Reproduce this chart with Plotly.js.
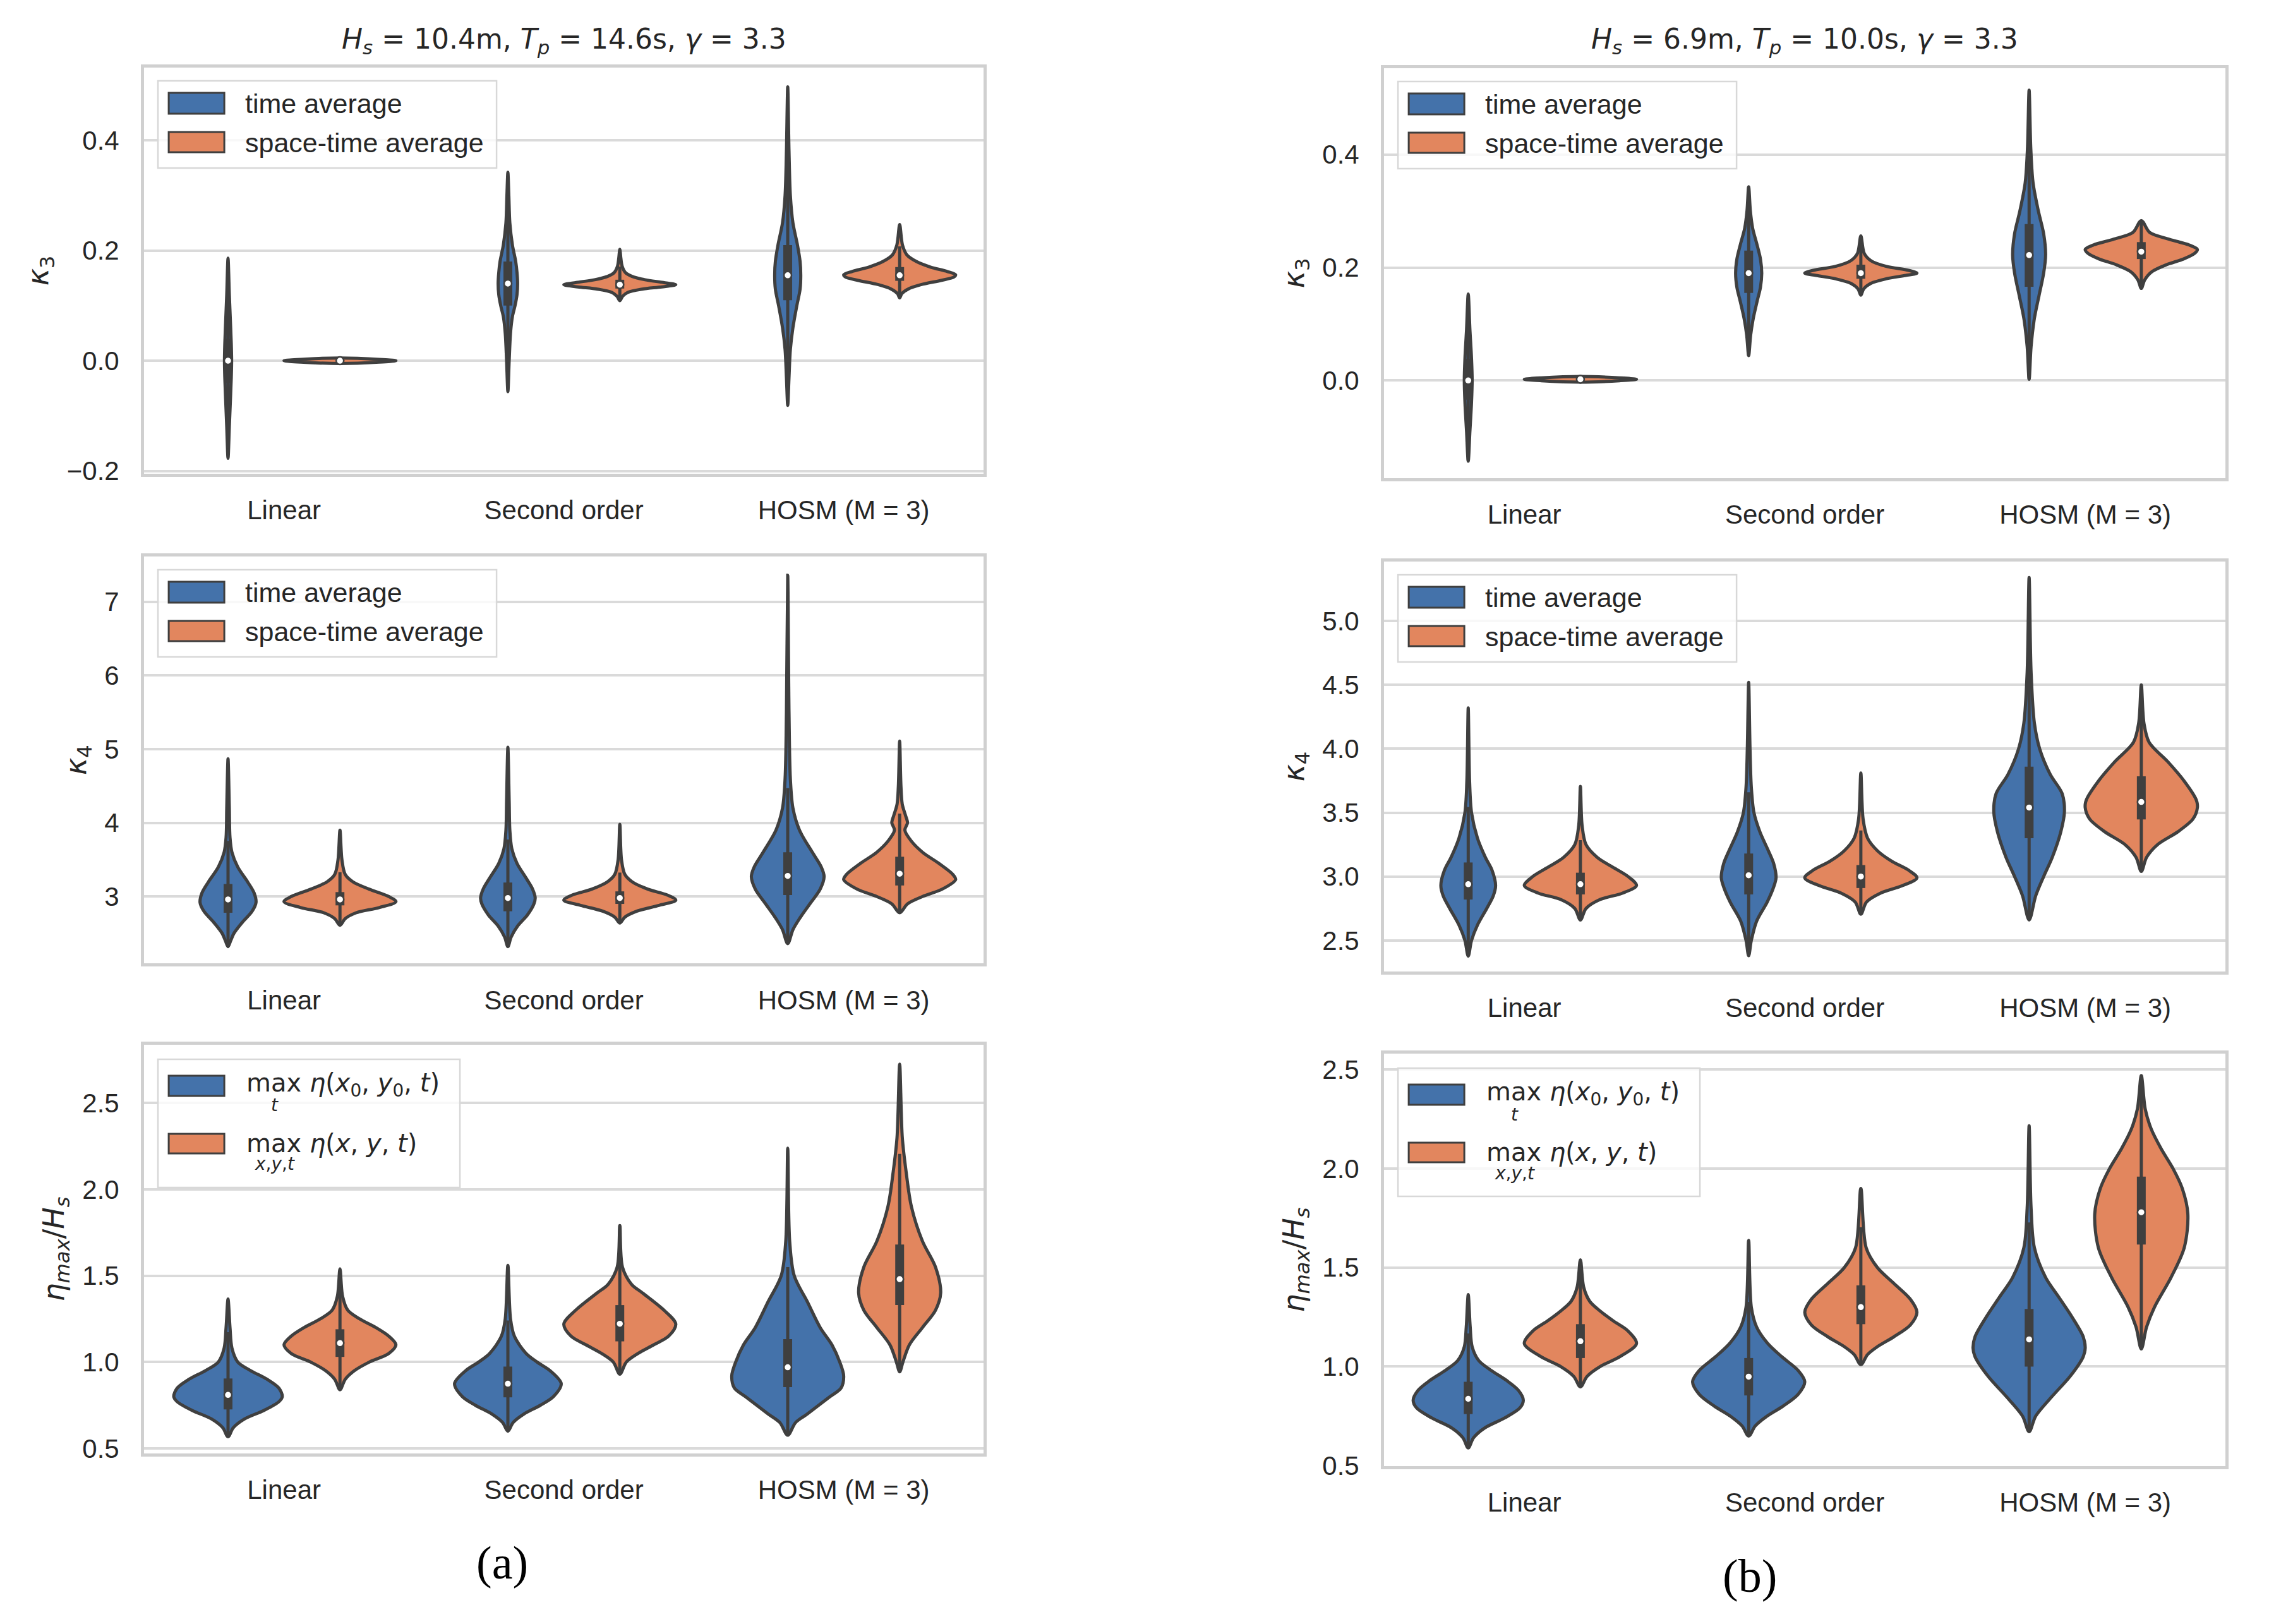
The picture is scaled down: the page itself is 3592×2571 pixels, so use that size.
<!DOCTYPE html>
<html>
<head>
<meta charset="utf-8">
<script src="https://cdn.plot.ly/plotly-3.0.1.min.js"></script>
<style>
  body { margin: 0; background: white; }
  #chart { width: 3592px; height: 2571px; }
</style>
</head>
<body>
<div id="chart"></div>
<script>
// categories on every x axis
var categories = ["Linear", "Second order", "HOSM (M = 3)"];
var legendLabels = ["time average", "space-time average"];
var etaLabels = ["max <i>η</i>(<i>x</i><sub>0</sub>, <i>y</i><sub>0</sub>, <i>t</i>)", "max <i>η</i>(<i>x</i>, <i>y</i>, <i>t</i>)"];
var etaLimits = ["<i>t</i>", "<i>x</i>,<i>y</i>,<i>t</i>"];
var colTitles = ["<i>H</i><sub><i>s</i></sub> = 10.4m, <i>T</i><sub><i>p</i></sub> = 14.6s, <i>γ</i> = 3.3",
                 "<i>H</i><sub><i>s</i></sub> = 6.9m, <i>T</i><sub><i>p</i></sub> = 10.0s, <i>γ</i> = 3.3"];
var yTitles = ["<i>κ</i><sub>3</sub>", "<i>κ</i><sub>4</sub>", "<i>η</i><sub><i>max</i></sub>/<i>H</i><sub><i>s</i></sub>"];
var captions = ["(a)", "(b)"];

// each violin: levels (value axis) and relative density (1 = widest violin)
// kappa 3, case (a)
var k3aTimeLevels = [[-0.177, -0.12, -0.06, -0.03, 0.0, 0.03, 0.06, 0.12, 0.186],
                     [-0.056, 0.0, 0.05, 0.08, 0.10, 0.12, 0.14, 0.16, 0.18, 0.21, 0.25, 0.30, 0.342],
                     [-0.081, -0.03, 0.02, 0.06, 0.10, 0.13, 0.155, 0.18, 0.21, 0.25, 0.30, 0.38, 0.497]];
var k3aTimeDens = [[0, 0.023, 0.047, 0.058, 0.064, 0.058, 0.047, 0.023, 0],
                   [0, 0.023, 0.047, 0.081, 0.128, 0.163, 0.174, 0.163, 0.14, 0.081, 0.035, 0.017, 0],
                   [0, 0.023, 0.047, 0.093, 0.163, 0.221, 0.233, 0.221, 0.174, 0.093, 0.047, 0.023, 0]];
var k3aTimeMedian = [0.0, 0.14, 0.155];
var k3aTimeQuart = [[-0.04, 0.04], [0.10, 0.18], [0.11, 0.21]];
var k3aSpaceLevels = [[-0.005, -0.0025, 0.0, 0.0025, 0.005],
                      [0.109, 0.117, 0.124, 0.130, 0.134, 0.138, 0.142, 0.147, 0.153, 0.160, 0.172, 0.185, 0.202],
                      [0.114, 0.122, 0.130, 0.138, 0.146, 0.152, 0.156, 0.162, 0.170, 0.180, 0.192, 0.21, 0.247]];
var k3aSpaceDens = [[0, 0.7, 1.0, 0.7, 0],
                    [0, 0.05, 0.14, 0.40, 0.75, 1.0, 0.78, 0.45, 0.22, 0.10, 0.04, 0.02, 0],
                    [0, 0.04, 0.15, 0.38, 0.75, 0.97, 1.0, 0.85, 0.55, 0.3, 0.13, 0.05, 0]];
var k3aSpaceMedian = [0.0, 0.138, 0.155];
var k3aSpaceQuart = [[-0.001, 0.001], [0.131, 0.147], [0.145, 0.17]];

// kappa 3, case (b)
var k3bTimeLevels = [[-0.143, -0.09, -0.04, 0.0, 0.04, 0.09, 0.153],
                     [0.044, 0.08, 0.11, 0.14, 0.165, 0.19, 0.215, 0.24, 0.27, 0.30, 0.343],
                     [0.002, 0.06, 0.11, 0.15, 0.19, 0.223, 0.26, 0.30, 0.35, 0.41, 0.514]];
var k3bTimeDens = [[0, 0.03, 0.058, 0.07, 0.058, 0.03, 0],
                   [0, 0.035, 0.082, 0.15, 0.21, 0.233, 0.21, 0.15, 0.07, 0.03, 0],
                   [0, 0.035, 0.094, 0.176, 0.259, 0.294, 0.259, 0.165, 0.07, 0.03, 0]];
var k3bTimeMedian = [0.0, 0.19, 0.222];
var k3bTimeQuart = [[-0.034, 0.038], [0.155, 0.23], [0.166, 0.277]];
var k3bSpaceLevels = [[-0.003, -0.0005, 0.002, 0.0045, 0.007],
                      [0.151, 0.162, 0.172, 0.180, 0.186, 0.190, 0.195, 0.202, 0.212, 0.225, 0.256],
                      [0.163, 0.178, 0.192, 0.205, 0.215, 0.225, 0.232, 0.24, 0.25, 0.262, 0.283]];
var k3bSpaceDens = [[0, 0.7, 1.0, 0.7, 0],
                    [0, 0.05, 0.18, 0.45, 0.8, 1.0, 0.85, 0.45, 0.18, 0.06, 0],
                    [0, 0.06, 0.18, 0.45, 0.75, 0.95, 1.0, 0.85, 0.5, 0.15, 0]];
var k3bSpaceMedian = [0.002, 0.19, 0.228];
var k3bSpaceQuart = [[0.001, 0.003], [0.18, 0.205], [0.215, 0.245]];

// kappa 4, case (a)
var k4aTimeLevels = [[2.32, 2.4, 2.5, 2.65, 2.8, 2.92, 3.05, 3.2, 3.4, 3.6, 3.8, 4.2, 4.87],
                     [2.32, 2.45, 2.6, 2.75, 2.9, 2.98, 3.1, 3.25, 3.45, 3.65, 3.9, 4.3, 5.025],
                     [2.36, 2.55, 2.7, 2.9, 3.1, 3.27, 3.4, 3.6, 3.9, 4.2, 4.6, 5.5, 7.36]];
var k4aTimeDens = [[0, 0.047, 0.105, 0.256, 0.43, 0.5, 0.465, 0.349, 0.174, 0.07, 0.035, 0.023, 0],
                   [0, 0.058, 0.174, 0.349, 0.465, 0.488, 0.442, 0.326, 0.163, 0.07, 0.035, 0.023, 0],
                   [0, 0.093, 0.21, 0.395, 0.58, 0.65, 0.6, 0.44, 0.21, 0.093, 0.047, 0.023, 0]];
var k4aTimeMedian = [2.96, 2.98, 3.28];
var k4aTimeQuart = [[2.78, 3.17], [2.80, 3.19], [3.02, 3.6]];
var k4aSpaceLevels = [[2.61, 2.7, 2.78, 2.85, 2.93, 3.0, 3.1, 3.2, 3.3, 3.5, 3.9],
                      [2.64, 2.72, 2.8, 2.88, 2.95, 3.02, 3.1, 3.2, 3.3, 3.5, 3.98],
                      [2.78, 2.9, 3.0, 3.1, 3.23, 3.3, 3.45, 3.6, 3.75, 3.9, 4.0, 4.1, 4.25, 4.5, 5.11]];
var k4aSpaceDens = [[0, 0.093, 0.29, 0.70, 1.0, 0.87, 0.52, 0.23, 0.093, 0.035, 0],
                    [0, 0.09, 0.3, 0.7, 1.0, 0.85, 0.5, 0.22, 0.09, 0.03, 0],
                    [0, 0.14, 0.41, 0.76, 1.0, 0.95, 0.70, 0.41, 0.21, 0.093, 0.14, 0.105, 0.047, 0.023, 0]];
var k4aSpaceMedian = [2.96, 2.98, 3.31];
var k4aSpaceQuart = [[2.88, 3.06], [2.90, 3.07], [3.15, 3.54]];

// kappa 4, case (b)
var k4bTimeLevels = [[2.377, 2.5, 2.62, 2.75, 2.85, 2.93, 3.05, 3.15, 3.3, 3.5, 3.75, 4.32],
                     [2.38, 2.5, 2.65, 2.8, 2.92, 2.99, 3.1, 3.2, 3.35, 3.5, 3.7, 4.0, 4.52],
                     [2.66, 2.85, 3.0, 3.15, 3.35, 3.51, 3.65, 3.8, 4.0, 4.2, 4.6, 5.34]];
var k4bTimeDens = [[0, 0.059, 0.165, 0.33, 0.447, 0.488, 0.424, 0.306, 0.165, 0.059, 0.024, 0],
                   [0, 0.047, 0.141, 0.33, 0.447, 0.488, 0.447, 0.353, 0.2, 0.094, 0.047, 0.024, 0],
                   [0, 0.118, 0.259, 0.412, 0.565, 0.63, 0.588, 0.376, 0.188, 0.094, 0.035, 0]];
var k4bTimeMedian = [2.94, 3.01, 3.54];
var k4bTimeQuart = [[2.82, 3.11], [2.86, 3.18], [3.30, 3.86]];
var k4bSpaceLevels = [[2.66, 2.75, 2.82, 2.87, 2.93, 3.0, 3.08, 3.15, 3.25, 3.4, 3.705],
                      [2.705, 2.8, 2.87, 2.93, 2.99, 3.05, 3.12, 3.2, 3.3, 3.45, 3.81],
                      [3.04, 3.15, 3.25, 3.35, 3.45, 3.54, 3.6, 3.75, 3.9, 4.05, 4.2, 4.5]];
var k4bSpaceDens = [[0, 0.1, 0.35, 0.75, 1.0, 0.85, 0.55, 0.3, 0.1, 0.03, 0],
                    [0, 0.1, 0.35, 0.75, 1.0, 0.85, 0.55, 0.3, 0.12, 0.04, 0],
                    [0, 0.094, 0.29, 0.65, 0.92, 1.0, 0.98, 0.76, 0.47, 0.14, 0.047, 0]];
var k4bSpaceMedian = [2.94, 3.0, 3.584];
var k4bSpaceQuart = [[2.86, 3.03], [2.91, 3.09], [3.447, 3.785]];

// eta max / Hs, case (a)
var etaATimeLevels = [[0.567, 0.62, 0.67, 0.72, 0.77, 0.80, 0.85, 0.90, 0.95, 1.0, 1.08, 1.2, 1.365],
                      [0.6, 0.65, 0.7, 0.75, 0.8, 0.875, 0.95, 1.0, 1.05, 1.15, 1.25, 1.56],
                      [0.577, 0.65, 0.7, 0.8, 0.85, 0.92, 1.0, 1.1, 1.2, 1.35, 1.5, 1.7, 2.238]];
var etaATimeDens = [[0, 0.093, 0.29, 0.64, 0.907, 0.97, 0.907, 0.70, 0.407, 0.174, 0.07, 0.035, 0],
                    [0, 0.093, 0.29, 0.58, 0.814, 0.953, 0.756, 0.523, 0.326, 0.116, 0.047, 0],
                    [0, 0.14, 0.35, 0.756, 0.953, 1.0, 0.93, 0.79, 0.58, 0.35, 0.116, 0.035, 0]];
var etaATimeMedian = [0.81, 0.875, 0.97];
var etaATimeQuart = [[0.726, 0.905], [0.796, 0.974], [0.855, 1.133]];
var etaASpaceLevels = [[0.84, 0.9, 0.95, 1.0, 1.05, 1.1, 1.15, 1.2, 1.25, 1.3, 1.38, 1.54],
                       [0.93, 1.0, 1.05, 1.1, 1.15, 1.22, 1.3, 1.4, 1.45, 1.55, 1.79],
                       [0.944, 1.0, 1.1, 1.2, 1.3, 1.4, 1.55, 1.7, 1.9, 2.1, 2.3, 2.724]];
var etaASpaceDens = [[0, 0.093, 0.256, 0.523, 0.872, 1.0, 0.872, 0.64, 0.35, 0.14, 0.047, 0],
                     [0, 0.116, 0.326, 0.605, 0.872, 1.0, 0.79, 0.407, 0.21, 0.047, 0],
                     [0, 0.058, 0.174, 0.407, 0.64, 0.733, 0.64, 0.407, 0.21, 0.116, 0.047, 0]];
var etaASpaceMedian = [1.11, 1.222, 1.48];
var etaASpaceQuart = [[1.03, 1.19], [1.12, 1.33], [1.33, 1.68]];

// eta max / Hs, case (b)
var etaBTimeLevels = [[0.589, 0.64, 0.69, 0.74, 0.79, 0.83, 0.88, 0.93, 0.98, 1.03, 1.1, 1.2, 1.363],
                      [0.649, 0.7, 0.75, 0.8, 0.86, 0.923, 0.98, 1.05, 1.12, 1.2, 1.3, 1.637],
                      [0.671, 0.75, 0.85, 0.95, 1.05, 1.094, 1.15, 1.25, 1.35, 1.45, 1.6, 1.8, 2.216]];
var etaBTimeDens = [[0, 0.094, 0.294, 0.647, 0.918, 0.982, 0.894, 0.682, 0.412, 0.188, 0.07, 0.035, 0],
                    [0, 0.118, 0.33, 0.612, 0.882, 1.0, 0.882, 0.588, 0.33, 0.141, 0.047, 0],
                    [0, 0.118, 0.412, 0.73, 0.965, 1.0, 0.965, 0.765, 0.53, 0.294, 0.094, 0.035, 0]];
var etaBTimeMedian = [0.837, 0.949, 1.137];
var etaBTimeQuart = [[0.760, 0.923], [0.854, 1.043], [1.0, 1.291]];
var etaBSpaceLevels = [[0.897, 0.95, 1.0, 1.05, 1.116, 1.18, 1.23, 1.28, 1.33, 1.4, 1.539],
                       [1.009, 1.06, 1.1, 1.15, 1.21, 1.274, 1.34, 1.42, 1.5, 1.6, 1.899],
                       [1.089, 1.2, 1.3, 1.45, 1.6, 1.77, 1.9, 2.0, 2.1, 2.2, 2.3, 2.469]];
var etaBSpaceDens = [[0, 0.118, 0.353, 0.706, 1.0, 0.847, 0.588, 0.353, 0.165, 0.059, 0],
                     [0, 0.118, 0.294, 0.588, 0.882, 1.0, 0.882, 0.588, 0.294, 0.094, 0],
                     [0, 0.094, 0.235, 0.53, 0.765, 0.83, 0.73, 0.565, 0.353, 0.176, 0.07, 0]];
var etaBSpaceMedian = [1.128, 1.30, 1.779];
var etaBSpaceQuart = [[1.043, 1.214], [1.214, 1.41], [1.616, 1.959]];

// look
var W = 3592, H = 2571;
var blue = "#4472aa", orange = "#e2865e", edge = "#3f3f3f";
var gridCol = "#dadada", frameCol = "#d0d0d0", textCol = "#262626";
var sansFont = "Liberation Sans, Arial, sans-serif";
var halfMax = 0.2, dodge = 0.2;

// panel placement (paper fractions) and y scales
var panels = [
  {col: 0, row: 0, x: [0.0635, 0.4335], y: [0.7083, 0.9584], range: [-0.205, 0.532], dtick: 0.2, fmt: ".1f",
   time: [k3aTimeLevels, k3aTimeDens, k3aTimeMedian, k3aTimeQuart], space: [k3aSpaceLevels, k3aSpaceDens, k3aSpaceMedian, k3aSpaceQuart]},
  {col: 1, row: 0, x: [0.61, 0.9808], y: [0.7056, 0.958], range: [-0.173, 0.553], dtick: 0.2, fmt: ".1f",
   time: [k3bTimeLevels, k3bTimeDens, k3bTimeMedian, k3bTimeQuart], space: [k3bSpaceLevels, k3bSpaceDens, k3bSpaceMedian, k3bSpaceQuart]},
  {col: 0, row: 1, x: [0.0635, 0.4335], y: [0.4068, 0.6573], range: [2.093, 7.614], dtick: 1, fmt: "d",
   time: [k4aTimeLevels, k4aTimeDens, k4aTimeMedian, k4aTimeQuart], space: [k4aSpaceLevels, k4aSpaceDens, k4aSpaceMedian, k4aSpaceQuart]},
  {col: 1, row: 1, x: [0.61, 0.9808], y: [0.4018, 0.6542], range: [2.257, 5.465], dtick: 0.5, fmt: ".1f",
   time: [k4bTimeLevels, k4bTimeDens, k4bTimeMedian, k4bTimeQuart], space: [k4bSpaceLevels, k4bSpaceDens, k4bSpaceMedian, k4bSpaceQuart]},
  {col: 0, row: 2, x: [0.0635, 0.4335], y: [0.1050, 0.3567], range: [0.471, 2.837], dtick: 0.5, fmt: ".1f",
   time: [etaATimeLevels, etaATimeDens, etaATimeMedian, etaATimeQuart], space: [etaASpaceLevels, etaASpaceDens, etaASpaceMedian, etaASpaceQuart]},
  {col: 1, row: 2, x: [0.61, 0.9808], y: [0.0972, 0.3512], range: [0.497, 2.58], dtick: 0.5, fmt: ".1f",
   time: [etaBTimeLevels, etaBTimeDens, etaBTimeMedian, etaBTimeQuart], space: [etaBSpaceLevels, etaBSpaceDens, etaBSpaceMedian, etaBSpaceQuart]}
];

var data = [];
var layout = {
  width: W, height: H,
  margin: {l: 0, r: 0, t: 0, b: 0},
  paper_bgcolor: "white", plot_bgcolor: "white",
  showlegend: false,
  font: {family: sansFont, size: 42, color: textCol},
  shapes: [], annotations: []
};

// one violin as a closed outline, right side up and left side down
violin = function(xc, levels, dens, color, xa, ya){
  var xs = [], ys = [];
  for (let i = 0; i < levels.length; i++){
    xs.push(xc + halfMax*dens[i]); ys.push(levels[i]);
  }
  for (let i = levels.length - 2; i >= 0; i--){
    xs.push(xc - halfMax*dens[i]); ys.push(levels[i]);
  }
  return {type: "scatter", mode: "lines", x: xs, y: ys, xaxis: xa, yaxis: ya,
    fill: "toself", fillcolor: color,
    line: {color: edge, width: 5, shape: "spline", smoothing: 0.9},
    hoverinfo: "skip", showlegend: false};
};

// inner box like seaborn: whisker, thick quartile bar and white median dot
innerBox = function(offset, set, xa, ya){
  var levels = set[0], med = set[2], quart = set[3];
  var wx = [], wy = [], bx = [], by = [], mx = [];
  for (let c = 0; c < 3; c++){
    var xc = c + offset;
    var lv = levels[c];
    var iqr = quart[c][1] - quart[c][0];
    var lo = Math.max(lv[0], quart[c][0] - 1.5*iqr);
    var hi = Math.min(lv[lv.length-1], quart[c][1] + 1.5*iqr);
    wx.push(xc, xc, null); wy.push(lo, hi, null);
    bx.push(xc, xc, null); by.push(quart[c][0], quart[c][1], null);
    mx.push(xc);
  }
  return [
    {type: "scatter", mode: "lines", x: wx, y: wy, xaxis: xa, yaxis: ya,
      line: {color: edge, width: 5}, hoverinfo: "skip", showlegend: false},
    {type: "scatter", mode: "lines", x: bx, y: by, xaxis: xa, yaxis: ya,
      line: {color: edge, width: 14}, hoverinfo: "skip", showlegend: false},
    {type: "scatter", mode: "markers", x: mx, y: med, xaxis: xa, yaxis: ya,
      marker: {color: "white", size: 12, line: {color: edge, width: 2.5}},
      hoverinfo: "skip", showlegend: false}
  ];
};

// custom legend box inside the panel, offsets in pixels from the plot corner
addLegend = function(p, n){
  var xd = (n == 1 ? "x" : "x" + n) + " domain";
  var yd = (n == 1 ? "y" : "y" + n) + " domain";
  var pw = (p.x[1] - p.x[0])*W, ph = (p.y[1] - p.y[0])*H;
  var fx = function(v){ return v/pw; };
  var fy = function(v){ return 1 - v/ph; };
  var eta = p.row == 2;
  var box = eta ? [22, 500, 23, 226] : [22, 558, 21, 159];
  var patches = eta ? [[49, 81], [141, 172]] : [[40, 73], [102, 134]];
  var textY = eta ? [63, 156] : [57, 119];
  layout.shapes.push({type: "rect", xref: xd, yref: yd, layer: "above",
    x0: fx(box[0]), x1: fx(box[1]), y0: fy(box[2]), y1: fy(box[3]),
    fillcolor: "rgba(255,255,255,0.8)", line: {color: "#d8d8d8", width: 2.5}});
  var cols = [blue, orange];
  for (let k = 0; k < 2; k++){
    layout.shapes.push({type: "rect", xref: xd, yref: yd, layer: "above",
      x0: fx(39), x1: fx(127), y0: fy(patches[k][0]), y1: fy(patches[k][1]),
      fillcolor: cols[k], line: {color: edge, width: 3}});
    if (eta){
      layout.annotations.push({xref: xd, yref: yd, x: fx(160), y: fy(textY[k]),
        xanchor: "left", yanchor: "middle", showarrow: false, text: etaLabels[k],
        font: {family: "DejaVu Sans", size: 40, color: textCol}});
      layout.annotations.push({xref: xd, yref: yd, x: fx(207), y: fy(textY[k] + 33),
        xanchor: "center", yanchor: "middle", showarrow: false, text: etaLimits[k],
        font: {family: "DejaVu Sans", size: 28, color: textCol}});
    } else {
      layout.annotations.push({xref: xd, yref: yd, x: fx(158), y: fy(textY[k]),
        xanchor: "left", yanchor: "middle", showarrow: false, text: legendLabels[k],
        font: {family: sansFont, size: 43, color: textCol}});
    }
  }
};

panels.forEach(function(p, i){
  var n = i + 1;
  var xa = n == 1 ? "x" : "x" + n;
  var ya = n == 1 ? "y" : "y" + n;

  for (let c = 0; c < 3; c++){
    data.push(violin(c - dodge, p.time[0][c], p.time[1][c], blue, xa, ya));
    data.push(violin(c + dodge, p.space[0][c], p.space[1][c], orange, xa, ya));
  }
  data = data.concat(innerBox(-dodge, p.time, xa, ya));
  data = data.concat(innerBox(dodge, p.space, xa, ya));

  layout[n == 1 ? "xaxis" : "xaxis" + n] = {
    domain: p.x, anchor: ya, range: [-0.5, 2.5],
    tickmode: "array", tickvals: [0, 1, 2], ticktext: categories,
    showgrid: false, zeroline: false,
    showline: true, mirror: true, linecolor: frameCol, linewidth: 5,
    ticks: "outside", ticklen: 17, tickcolor: "rgba(0,0,0,0)",
    tickfont: {family: sansFont, size: 42, color: textCol}, fixedrange: true
  };
  layout[n == 1 ? "yaxis" : "yaxis" + n] = {
    domain: p.y, anchor: xa, range: p.range,
    tick0: 0, dtick: p.dtick, tickformat: p.fmt,
    showgrid: true, gridcolor: gridCol, gridwidth: 4, zeroline: false,
    showline: true, mirror: true, linecolor: frameCol, linewidth: 5,
    ticks: "outside", ticklen: 26, tickcolor: "rgba(0,0,0,0)",
    tickfont: {family: sansFont, size: 42, color: textCol}, fixedrange: true,
    title: {text: yTitles[p.row], standoff: 16,
      font: {family: "DejaVu Sans", size: 46, color: textCol}}
  };
  addLegend(p, n);
});

// column titles and (a) / (b) captions
for (let k = 0; k < 2; k++){
  var px = panels[k].x;
  layout.annotations.push({xref: "paper", yref: "paper", x: (px[0] + px[1])/2, y: 0.975,
    xanchor: "center", yanchor: "middle", showarrow: false, text: colTitles[k],
    font: {family: "DejaVu Sans", size: 44, color: textCol}});
}
layout.annotations.push({xref: "paper", yref: "paper", x: 0.2213, y: 0.0377,
  xanchor: "center", yanchor: "middle", showarrow: false, text: captions[0],
  font: {family: "Liberation Serif, Times New Roman, serif", size: 74, color: "black"}});
layout.annotations.push({xref: "paper", yref: "paper", x: 0.7712, y: 0.0296,
  xanchor: "center", yanchor: "middle", showarrow: false, text: captions[1],
  font: {family: "Liberation Serif, Times New Roman, serif", size: 74, color: "black"}});

Plotly.newPlot("chart", data, layout, {displayModeBar: false, staticPlot: true});
</script>
</body>
</html>
